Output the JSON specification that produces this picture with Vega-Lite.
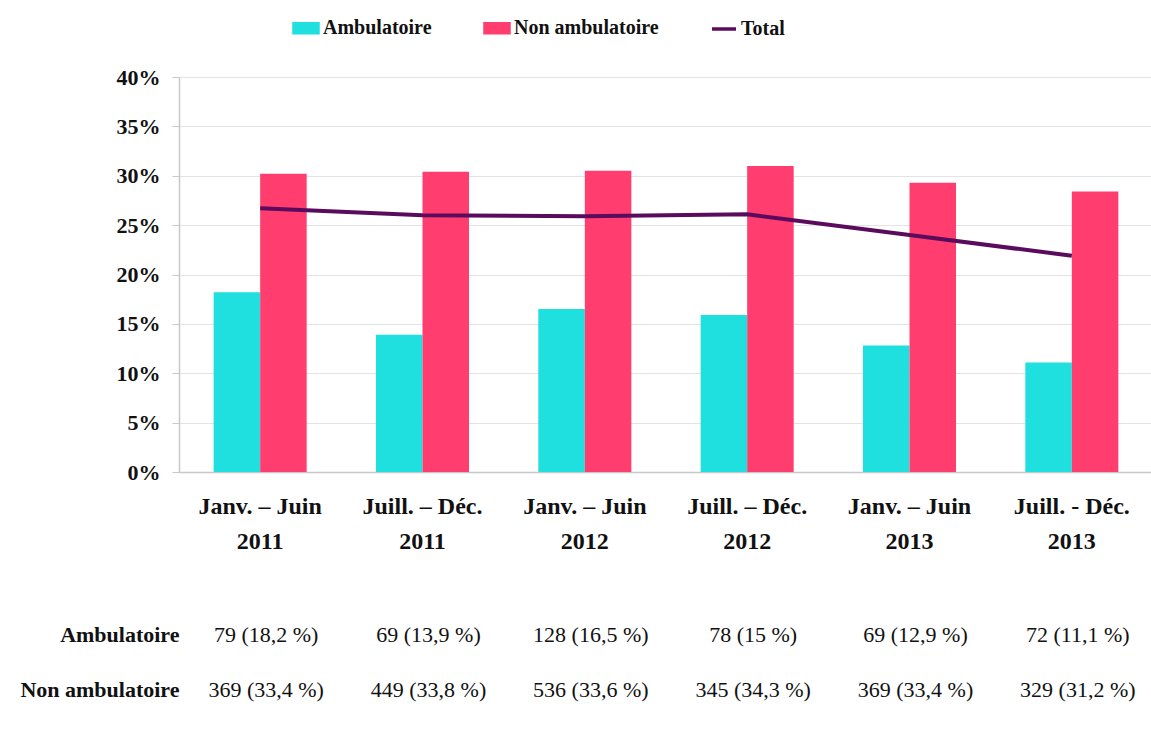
{
  "$schema": "https://vega.github.io/schema/vega-lite/v6.json",
  "background": "white",
  "padding": {"left": 19, "top": 14, "right": 0, "bottom": 0},
  "config": {"view": {"stroke": null}, "font": "Liberation Serif"},
  "bounds": "flush",
  "spacing": 135,
  "datasets": {
    "series": [
      {"period": "Janv. – Juin 2011", "series": "Ambulatoire", "value": 18.2},
      {"period": "Juill. – Déc. 2011", "series": "Ambulatoire", "value": 13.9},
      {"period": "Janv. – Juin 2012", "series": "Ambulatoire", "value": 16.5},
      {"period": "Juill. – Déc. 2012", "series": "Ambulatoire", "value": 15.9},
      {"period": "Janv. – Juin 2013", "series": "Ambulatoire", "value": 12.8},
      {"period": "Juill. - Déc. 2013", "series": "Ambulatoire", "value": 11.1},
      {"period": "Janv. – Juin 2011", "series": "Non ambulatoire", "value": 30.2},
      {"period": "Juill. – Déc. 2011", "series": "Non ambulatoire", "value": 30.4},
      {"period": "Janv. – Juin 2012", "series": "Non ambulatoire", "value": 30.5},
      {"period": "Juill. – Déc. 2012", "series": "Non ambulatoire", "value": 31.0},
      {"period": "Janv. – Juin 2013", "series": "Non ambulatoire", "value": 29.3},
      {"period": "Juill. - Déc. 2013", "series": "Non ambulatoire", "value": 28.4},
      {"period": "Janv. – Juin 2011", "series": "Total", "value": 26.7},
      {"period": "Juill. – Déc. 2011", "series": "Total", "value": 26.0},
      {"period": "Janv. – Juin 2012", "series": "Total", "value": 25.9},
      {"period": "Juill. – Déc. 2012", "series": "Total", "value": 26.1},
      {"period": "Janv. – Juin 2013", "series": "Total", "value": 24.0},
      {"period": "Juill. - Déc. 2013", "series": "Total", "value": 21.9}
    ],
    "table": [
      {"period": "Janv. – Juin 2011", "row": "Ambulatoire", "label": "79 (18,2 %)"},
      {"period": "Juill. – Déc. 2011", "row": "Ambulatoire", "label": "69 (13,9 %)"},
      {"period": "Janv. – Juin 2012", "row": "Ambulatoire", "label": "128 (16,5 %)"},
      {"period": "Juill. – Déc. 2012", "row": "Ambulatoire", "label": "78 (15 %)"},
      {"period": "Janv. – Juin 2013", "row": "Ambulatoire", "label": "69 (12,9 %)"},
      {"period": "Juill. - Déc. 2013", "row": "Ambulatoire", "label": "72 (11,1 %)"},
      {"period": "Janv. – Juin 2011", "row": "Non ambulatoire", "label": "369 (33,4 %)"},
      {"period": "Juill. – Déc. 2011", "row": "Non ambulatoire", "label": "449 (33,8 %)"},
      {"period": "Janv. – Juin 2012", "row": "Non ambulatoire", "label": "536 (33,6 %)"},
      {"period": "Juill. – Déc. 2012", "row": "Non ambulatoire", "label": "345 (34,3 %)"},
      {"period": "Janv. – Juin 2013", "row": "Non ambulatoire", "label": "369 (33,4 %)"},
      {"period": "Juill. - Déc. 2013", "row": "Non ambulatoire", "label": "329 (31,2 %)"}
    ]
  },
  "vconcat": [
    {
      "width": 974,
      "height": 395,
      "data": {"name": "series"},
      "encoding": {
        "x": {
          "field": "period", "type": "nominal", "sort": null,
          "scale": {
            "domain": ["Janv. – Juin 2011", "Juill. – Déc. 2011", "Janv. – Juin 2012", "Juill. – Déc. 2012", "Janv. – Juin 2013", "Juill. - Déc. 2013"],
            "paddingInner": 0.427, "paddingOuter": 0.2135
          },
          "axis": {
            "title": null, "labelAngle": 0, "labelFont": "Liberation Serif", "labelFontWeight": "bold",
            "labelFontSize": 24, "labelColor": "#111111",
            "labelExpr": "[slice(datum.label, 0, lastindexof(datum.label, ' ')), slice(datum.label, lastindexof(datum.label, ' ') + 1)]",
            "labelLineHeight": 35, "ticks": false, "labelPadding": 22,
            "domainColor": "#c8c8c8", "domainWidth": 1.5
          }
        },
        "y": {
          "field": "value", "type": "quantitative",
          "scale": {"domain": [0, 40]},
          "axis": {
            "title": null, "values": [0, 5, 10, 15, 20, 25, 30, 35, 40],
            "labelExpr": "datum.value + '%'", "labelFont": "Liberation Serif",
            "labelFontSize": 22, "labelFontWeight": "bold", "labelColor": "#111111",
            "tickSize": 7, "tickColor": "#c8c8c8", "labelPadding": 12,
            "gridColor": "#e3e3e3", "domainColor": "#c8c8c8", "domainWidth": 1.5
          }
        }
      },
      "layer": [
        {
          "transform": [{"filter": "datum.series !== 'Total'"}],
          "mark": {"type": "bar"},
          "encoding": {
            "xOffset": {"field": "series", "type": "nominal", "scale": {"domain": ["Ambulatoire", "Non ambulatoire"], "paddingInner": 0, "paddingOuter": 0}},
            "color": {
              "field": "series", "type": "nominal",
              "scale": {"domain": ["Ambulatoire", "Non ambulatoire", "Total"], "range": ["#1FDFDF", "#FF3D6E", "#5B0B5E"]},
              "legend": {
                "title": null, "orient": "none", "legendX": 113, "legendY": -63,
                "direction": "horizontal", "columns": 3, "padding": 0,
                "symbolType": "M-1,-0.375H1V0.375H-1Z", "symbolSize": 576,
                "labelFont": "Liberation Serif", "labelFontWeight": "bold", "labelFontSize": 20,
                "labelColor": "#111111", "labelOffset": 3, "columnPadding": 46,
                "encode": {
                  "symbols": {
                    "update": {
                      "shape": {"signal": "datum.value === 'Total' ? 'M-1,0H1' : 'M-1,-0.375H1V0.375H-1Z'"},
                      "fill": {"signal": "datum.value === 'Ambulatoire' ? '#1FDFDF' : datum.value === 'Non ambulatoire' ? '#FF3D6E' : 'transparent'"},
                      "stroke": {"signal": "datum.value === 'Total' ? '#5B0B5E' : 'transparent'"},
                      "strokeWidth": {"value": 3.5},
                      "opacity": {"value": 1},
                      "fillOpacity": {"value": 1}
                    }
                  }
                }
              }
            }
          }
        },
        {
          "transform": [{"filter": "datum.series === 'Total'"}],
          "mark": {"type": "line", "strokeWidth": 4},
          "encoding": {
            "color": {"field": "series", "type": "nominal"}
          }
        }
      ]
    },
    {
      "width": 974,
      "height": 110,
      "data": {"name": "table"},
      "mark": {"type": "text", "font": "Liberation Serif", "fontSize": 22, "color": "#111111", "dx": 6},
      "encoding": {
        "x": {
          "field": "period", "type": "nominal", "sort": null,
          "scale": {
            "domain": ["Janv. – Juin 2011", "Juill. – Déc. 2011", "Janv. – Juin 2012", "Juill. – Déc. 2012", "Janv. – Juin 2013", "Juill. - Déc. 2013"],
            "paddingInner": 0.427, "paddingOuter": 0.2135
          },
          "axis": null
        },
        "y": {
          "field": "row", "type": "nominal", "sort": null,
          "scale": {"domain": ["Ambulatoire", "Non ambulatoire"], "paddingInner": 0, "paddingOuter": 0},
          "axis": {
            "title": null, "domain": false, "ticks": false, "grid": false,
            "labelFont": "Liberation Serif", "labelFontWeight": "bold", "labelFontSize": 22,
            "labelColor": "#111111", "labelPadding": 0
          }
        },
        "text": {"field": "label"}
      }
    }
  ]
}
